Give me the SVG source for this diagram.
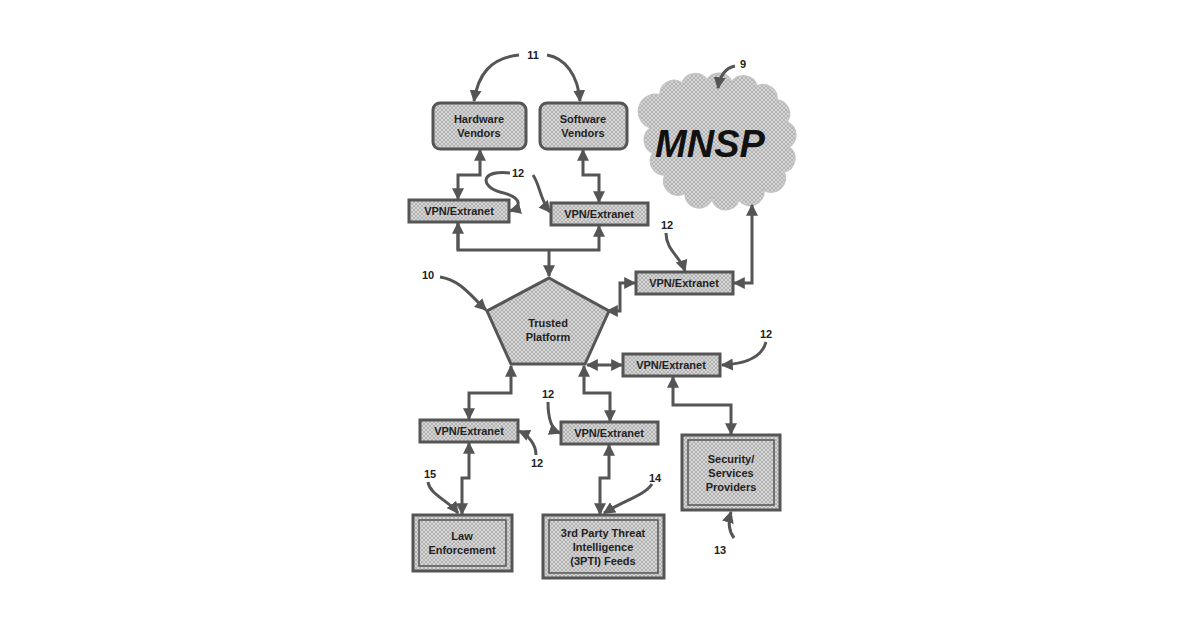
<svg xmlns="http://www.w3.org/2000/svg" width="1200" height="630" viewBox="0 0 1200 630">
<defs>
<pattern id="h" width="4" height="4" patternUnits="userSpaceOnUse">
<rect width="4" height="4" fill="#d6d6d6"/>
<path d="M0,0L4,4M4,0L0,4" stroke="#a8a8a8" stroke-width="0.8"/>
</pattern>
<marker id="a" viewBox="0 0 10 10" refX="9" refY="5" markerWidth="4" markerHeight="4" orient="auto-start-reverse" markerUnits="strokeWidth">
<path d="M0,0L10,5L0,10z" fill="#555"/>
</marker>
<style>
.b{fill:url(#h);stroke:#555;stroke-width:3}
.t{font-family:"Liberation Sans",Arial,sans-serif;font-weight:bold;font-size:11px;fill:#222;text-anchor:middle}
.n{font-family:"Liberation Sans",Arial,sans-serif;font-weight:bold;font-size:11px;fill:#222;text-anchor:middle}
.c{fill:none;stroke:#555;stroke-width:3;marker-end:url(#a)}
.d{fill:none;stroke:#555;stroke-width:3;marker-end:url(#a);marker-start:url(#a)}
</style>
</defs>
<rect width="1200" height="630" fill="#fff"/>

<g id="cloud">
<path fill="url(#h)" stroke="#c4c4c4" stroke-width="1.5" d="M660,95 a14,14 0 0 1 22,-12 a14,14 0 0 1 25,-3 a14,14 0 0 1 25,2 a14,14 0 0 1 25,4 a14,14 0 0 1 20,14 a14,14 0 0 1 10,22 a14,14 0 0 1 2,25 a14,14 0 0 1 -5,25 a14,14 0 0 1 -20,18 a14,14 0 0 1 -25,10 a14,14 0 0 1 -27,-1 a14,14 0 0 1 -27,-6 a14,14 0 0 1 -20,-18 a14,14 0 0 1 -12,-22 a14,14 0 0 1 -2,-25 a14,14 0 0 1 9,-33 z"/>
<text x="710" y="157" font-family="'Liberation Sans',Arial,sans-serif" font-weight="bold" font-style="italic" font-size="38" text-anchor="middle" fill="#111">MNSP</text>
</g>

<g id="hw"><rect class="b" x="433" y="103" width="93" height="46" rx="7"/><text class="t" x="479" y="123">Hardware</text><text class="t" x="479" y="137">Vendors</text></g>
<g id="sw"><rect class="b" x="540" y="103" width="87" height="46" rx="7"/><text class="t" x="583" y="123">Software</text><text class="t" x="583" y="137">Vendors</text></g>

<g id="vpn1"><rect class="b" x="409" y="200" width="100" height="22"/><text class="t" x="459" y="215">VPN/Extranet</text></g>
<g id="vpn2"><rect class="b" x="551" y="203" width="97" height="22"/><text class="t" x="599" y="218">VPN/Extranet</text></g>
<g id="vpn3"><rect class="b" x="636" y="272" width="97" height="22"/><text class="t" x="684" y="287">VPN/Extranet</text></g>
<g id="vpn4"><rect class="b" x="623" y="354" width="97" height="22"/><text class="t" x="671" y="369">VPN/Extranet</text></g>
<g id="vpn5"><rect class="b" x="420" y="420" width="98" height="22"/><text class="t" x="469" y="435">VPN/Extranet</text></g>
<g id="vpn6"><rect class="b" x="561" y="422" width="97" height="22"/><text class="t" x="609" y="437">VPN/Extranet</text></g>

<g id="tp"><polygon class="b" points="549,278 609,311 585,364 511,364 487,311"/><text class="t" x="548" y="327">Trusted</text><text class="t" x="548" y="341">Platform</text></g>

<g id="law"><rect class="b" x="413" y="515" width="99" height="56"/><rect fill="none" stroke="#555" stroke-width="1.5" x="419" y="520" width="87" height="46"/><text class="t" x="462" y="540">Law</text><text class="t" x="462" y="554">Enforcement</text></g>
<g id="tpti"><rect class="b" x="543" y="515" width="121" height="63"/><rect fill="none" stroke="#555" stroke-width="1.5" x="549" y="520" width="109" height="53"/><text class="t" x="603" y="537">3rd Party Threat</text><text class="t" x="603" y="551">Intelligence</text><text class="t" x="603" y="565">(3PTI) Feeds</text></g>
<g id="sec"><rect class="b" x="682" y="435" width="98" height="75"/><rect fill="none" stroke="#555" stroke-width="1.5" x="688" y="440" width="86" height="65"/><text class="t" x="731" y="463">Security/</text><text class="t" x="731" y="477">Services</text><text class="t" x="731" y="491">Providers</text></g>

<g id="connectors">
<path class="d" d="M480,150 V175 H458 V199"/>
<path class="d" d="M583,150 V175 H599 V202"/>
<path class="c" d="M458,223 V250 H599 V226"/>
<path class="c" d="M458,250 V223"/>
<path class="c" d="M549,250 V276"/>
<path class="d" d="M607,311 H620 V283 H635"/>
<path class="d" d="M734,283 H752 V205"/>
<path class="d" d="M587,365 H622"/>
<path class="d" d="M673,377 V405 H731 V434"/>
<path class="d" d="M511,366 V393 H469 V419"/>
<path class="d" d="M469,443 V478 H462 V514"/>
<path class="d" d="M584,366 V393 H610 V421"/>
<path class="d" d="M609,445 V478 H600 V514"/>
<path class="c" d="M519,55 C490,58 478,75 474,101"/>
<path class="c" d="M547,55 C565,58 578,75 580,101"/>
<path class="c" d="M510,173 C480,170 480,186 500,192 C525,198 520,208 510,211"/>
<path class="c" d="M533,175 C540,185 540,200 550,212"/>
<path class="c" d="M666,233 C666,250 680,256 685,271"/>
<path class="c" d="M766,342 C762,357 745,364 722,365"/>
<path class="c" d="M734,538 C728,530 728,522 731,512"/>
<path class="c" d="M536,455 C536,444 528,435 519,431"/>
<path class="c" d="M548,402 C548,418 552,430 560,433"/>
<path class="c" d="M428,482 C430,495 448,500 458,513"/>
<path class="c" d="M652,484 C645,495 625,500 604,513"/>
<path class="c" d="M440,277 C460,280 470,295 486,310"/>
<path class="c" d="M735,66 C725,68 720,75 718,88"/>
</g>

<g id="labels">
<text class="n" x="533" y="59">11</text>
<text class="n" x="518" y="177">12</text>
<text class="n" x="667" y="229">12</text>
<text class="n" x="766" y="338">12</text>
<text class="n" x="548" y="398">12</text>
<text class="n" x="537" y="467">12</text>
<text class="n" x="430" y="478">15</text>
<text class="n" x="655" y="482">14</text>
<text class="n" x="720" y="554">13</text>
<text class="n" x="428" y="279">10</text>
<text class="n" x="743" y="68">9</text>
</g>
</svg>
